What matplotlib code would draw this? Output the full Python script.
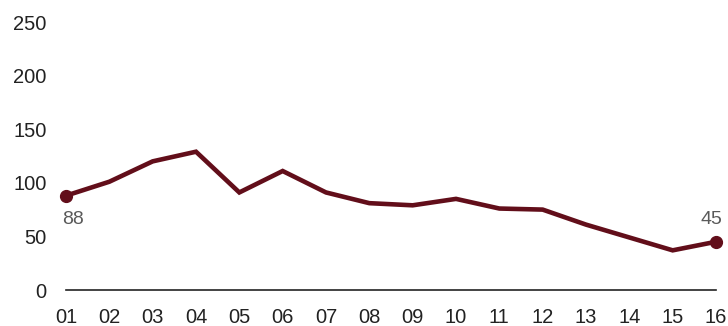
import matplotlib
matplotlib.use("Agg")
import matplotlib.pyplot as plt

plt.rcParams["font.family"] = ["Liberation Sans", "DejaVu Sans"]

categories = ["01", "02", "03", "04", "05", "06", "07", "08",
              "09", "10", "11", "12", "13", "14", "15", "16"]
values = [88, 101, 120, 129, 91, 111, 91, 81, 79, 85, 76, 75, 61, 49, 37, 45]
yticks = [0, 50, 100, 150, 200, 250]

line_color = "#620e1a"

fig = plt.figure(figsize=(7.28, 3.26), dpi=100)
ax = fig.add_axes([66/728, 36/326, 650/728, 268/326])

x = list(range(len(categories)))
ax.plot(x, values, color=line_color, lw=3.3, solid_joinstyle="miter", zorder=3, clip_on=False)
ax.plot([x[0], x[-1]], [values[0], values[-1]], "o", color=line_color, ms=8.5,
        zorder=4, clip_on=False)

ax.annotate(str(values[0]), (x[0], values[0]), xytext=(5, -17), textcoords="offset points",
            ha="center", va="center", fontsize=14, color="#5a5a5a")
ax.annotate(str(values[-1]), (x[-1], values[-1]), xytext=(-3, 16), textcoords="offset points",
            ha="center", va="center", fontsize=14, color="#5a5a5a")

ax.set_xlim(x[0], x[-1])
ax.set_ylim(0, 250)
ax.set_xticks(x)
ax.set_xticklabels(categories)
ax.set_yticks(yticks)
ax.tick_params(axis="both", length=0, labelsize=14.5, colors="#222222")
ax.tick_params(axis="x", pad=13)
ax.tick_params(axis="y", pad=14)
for s in ["top", "right", "left"]:
    ax.spines[s].set_visible(False)
ax.spines["bottom"].set_color("#222222")
ax.spines["bottom"].set_linewidth(1.2)

fig.savefig("out.png", dpi=100)
